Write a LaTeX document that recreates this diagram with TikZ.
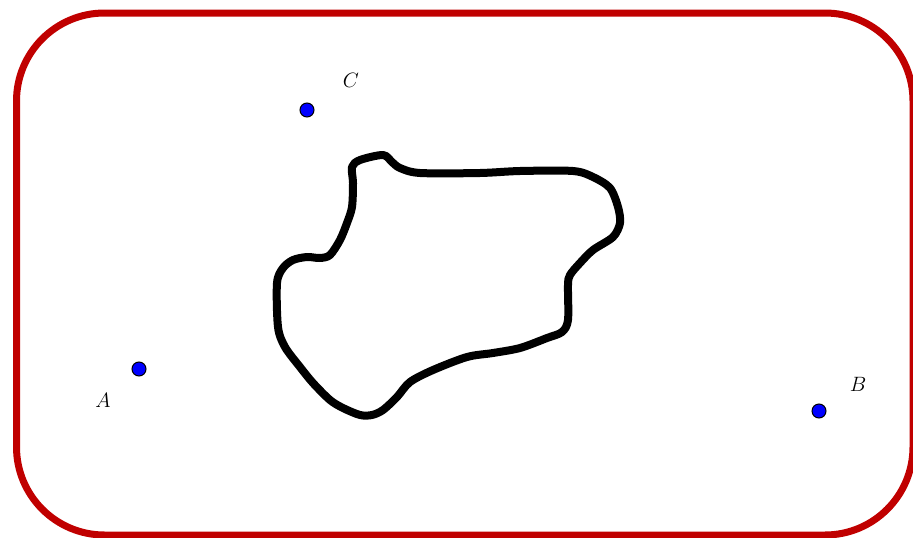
\documentclass[tikz,border=0pt]{standalone}
\usetikzlibrary{calc}
\definecolor{frame}{RGB}{192,0,0}
\definecolor{ptblue}{RGB}{0,0,255}
\tikzset{
  pt/.style={circle,draw=black,fill=ptblue,line width=1pt,minimum size=14pt,inner sep=0pt},
  lbl/.style={font=\fontsize{22}{26}\selectfont\itshape},
}
\begin{document}
\begin{tikzpicture}[x=1pt,y=-1pt]
\useasboundingbox (0,0) rectangle (913,538);
\draw[frame,line width=7pt,rounded corners=88pt] (16.5,13) rectangle (913,535);
\draw[black,line width=8pt,line join=round] plot[smooth cycle,tension=0.5] coordinates {
(352,167) (360,160) (383,155) (392,162) (400,168) (420,173) (480,173) (520,171) (573,171)
(593,177) (610,188) (618,207) (620,223) (613,237) (593,250) (580,263) (570,275) (568,285)
(568,320) (562,332) (547,338) (520,348) (493,353) (467,357) (433,370) (410,382) (397,397)
(383,410) (372,415) (360,415) (343,408) (330,400) (313,383) (300,367) (285,347) (278,327)
(277,283) (283,268) (293,260) (307,257) (320,258) (330,255) (340,240) (347,223) (352,207)
(353,183)};
\node[pt] (A) at (139,369) {};
\node[pt] (B) at (819,411) {};
\node[pt] (C) at (307,110) {};
\node[lbl] (lA) at (103,400) {$A$};
\node[lbl] (lB) at (858,384) {$B$};
\node[lbl] (lC) at (351,80) {$C$};
\end{tikzpicture}
\end{document}
